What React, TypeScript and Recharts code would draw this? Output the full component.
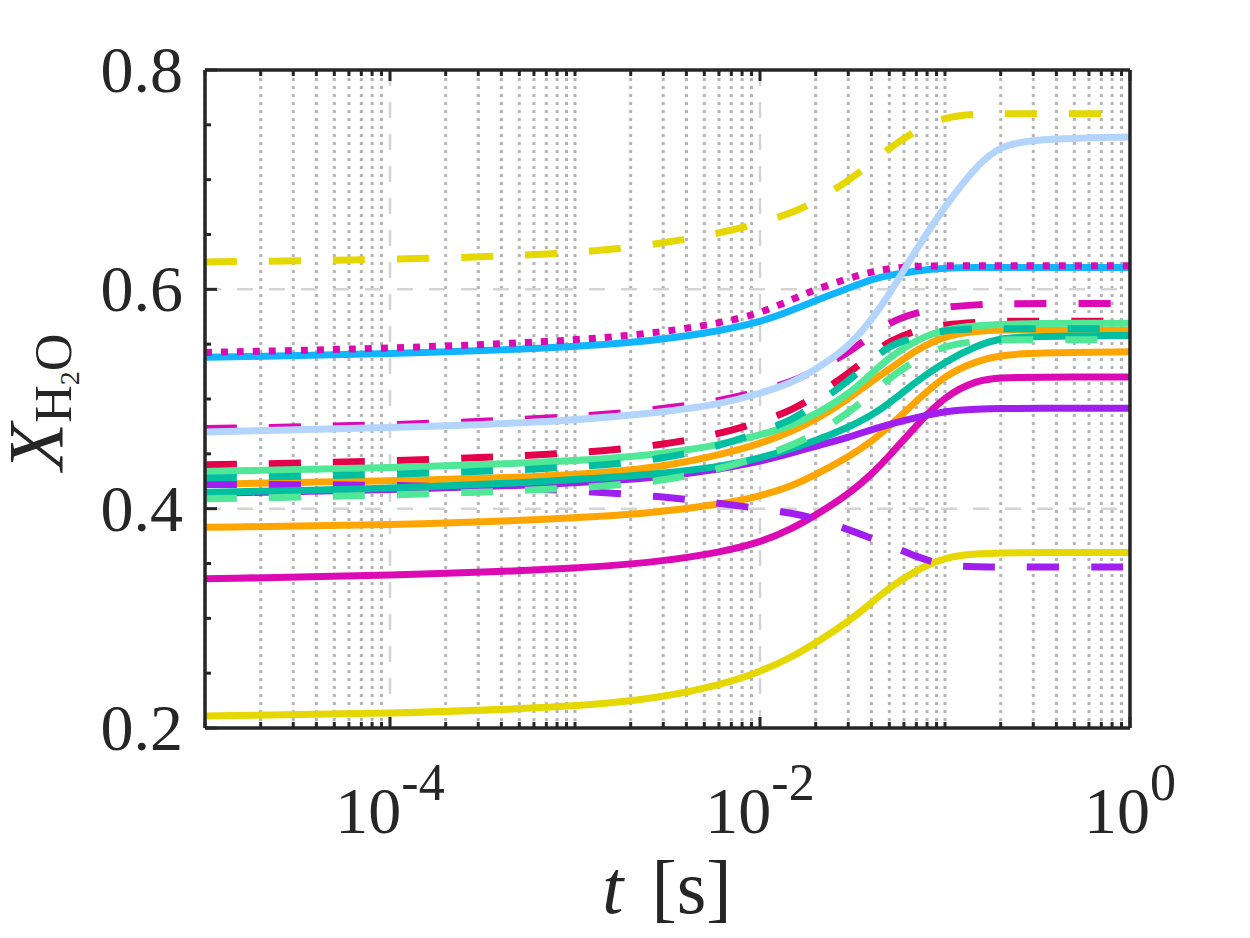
import { LineChart, Line, XAxis, YAxis, CartesianGrid } from 'recharts'

// sample times [s]
const T = [1e-5, 1e-4, 1e-3, 3e-3, 6e-3, 1e-2, 1.5e-2, 2e-2, 3e-2, 4e-2, 5e-2, 7e-2, 1e-1, 1.5e-1, 2e-1, 3e-1, 1]

const yellowSolid = [0.211, 0.213, 0.219, 0.228, 0.239, 0.251, 0.265, 0.2775, 0.297, 0.314, 0.328, 0.344, 0.356, 0.359, 0.3597, 0.36, 0.36]
const yellowDashed = [0.625, 0.627, 0.632, 0.642, 0.651, 0.66, 0.67, 0.68, 0.699, 0.715, 0.729, 0.745, 0.7575, 0.76, 0.76, 0.76, 0.76]
const magentaSolid = [0.336, 0.339, 0.345, 0.352, 0.36, 0.369, 0.382, 0.394, 0.413, 0.431, 0.448, 0.476, 0.503, 0.5175, 0.5195, 0.52, 0.52]
const orangeLow = [0.383, 0.385, 0.391, 0.397, 0.404, 0.411, 0.421, 0.431, 0.447, 0.461, 0.475, 0.498, 0.522, 0.535, 0.54, 0.542, 0.543]
const purpleSolid = [0.414, 0.417, 0.423, 0.429, 0.436, 0.443, 0.451, 0.457, 0.465, 0.472, 0.477, 0.483, 0.489, 0.491, 0.4915, 0.4915, 0.4915]
const orangeUp = [0.4224, 0.425, 0.43, 0.438, 0.449, 0.459, 0.471, 0.481, 0.5, 0.516, 0.527, 0.545, 0.558, 0.562, 0.563, 0.563, 0.563]
const purpleDashed = [0.422, 0.422, 0.417, 0.411, 0.405, 0.4, 0.396, 0.391, 0.381, 0.373, 0.367, 0.356, 0.348, 0.347, 0.3468, 0.3468, 0.3468]
const redDashed = [0.44, 0.443, 0.45, 0.458, 0.468, 0.479, 0.49, 0.503, 0.523, 0.54, 0.553, 0.563, 0.568, 0.57, 0.571, 0.571, 0.571]
const greenSolid = [0.434, 0.437, 0.443, 0.45, 0.458, 0.467, 0.476, 0.486, 0.504, 0.523, 0.538, 0.554, 0.564, 0.567, 0.568, 0.569, 0.569]
const tealSolid = [0.415, 0.418, 0.426, 0.432, 0.438, 0.446, 0.455, 0.462, 0.474, 0.485, 0.496, 0.516, 0.534, 0.549, 0.5555, 0.557, 0.558]
const tealDashed = [0.428, 0.431, 0.437, 0.445, 0.457, 0.47, 0.481, 0.495, 0.516, 0.535, 0.549, 0.557, 0.563, 0.564, 0.564, 0.564, 0.564]
const greenDashed = [0.409, 0.412, 0.418, 0.425, 0.436, 0.447, 0.458, 0.468, 0.487, 0.505, 0.519, 0.536, 0.549, 0.553, 0.554, 0.554, 0.554]
const magentaDashed = [0.473, 0.476, 0.483, 0.491, 0.498, 0.507, 0.516, 0.526, 0.542, 0.558, 0.57, 0.579, 0.584, 0.586, 0.587, 0.587, 0.587]
const skyBlue = [0.538, 0.541, 0.547, 0.554, 0.562, 0.57, 0.581, 0.59, 0.601, 0.609, 0.613, 0.617, 0.6195, 0.62, 0.62, 0.62, 0.62]
const magentaDotted = [0.5425, 0.546, 0.553, 0.561, 0.569, 0.578, 0.591, 0.6, 0.61, 0.616, 0.619, 0.621, 0.6215, 0.6215, 0.6215, 0.6215, 0.6215]
const lightBlue = [0.47, 0.4735, 0.48, 0.488, 0.495, 0.505, 0.515, 0.527, 0.547, 0.572, 0.595, 0.637, 0.676, 0.714, 0.731, 0.737, 0.739]

const X_MAJOR = [1e-4, 1e-2, 1]
const X_MAJOR_LABELS = ['-4', '-2', '0']
const X_MINOR = [
  1e-5, 2e-5, 3e-5, 4e-5, 5e-5, 6e-5, 7e-5, 8e-5, 9e-5,
  2e-4, 3e-4, 4e-4, 5e-4, 6e-4, 7e-4, 8e-4, 9e-4,
  1e-3, 2e-3, 3e-3, 4e-3, 5e-3, 6e-3, 7e-3, 8e-3, 9e-3,
  2e-2, 3e-2, 4e-2, 5e-2, 6e-2, 7e-2, 8e-2, 9e-2,
  1e-1, 2e-1, 3e-1, 4e-1, 5e-1, 6e-1, 7e-1, 8e-1, 9e-1,
]
const Y_MAJOR = [0.2, 0.4, 0.6, 0.8]
const Y_MAJOR_LABELS = ['0.2', '0.4', '0.6', '0.8']
const Y_MINOR = [0.25, 0.3, 0.35, 0.45, 0.5, 0.55, 0.65, 0.7, 0.75]

const INK = '#262626'
const FONT = 'Liberation Serif'
const DASH = '32 32'
const DOT = '7 9'

// drawing order = z-order
const SERIES = [
  { key: 'yellowSolid', values: yellowSolid, color: '#E5D700' },
  { key: 'yellowDashed', values: yellowDashed, color: '#E5D700', dash: DASH },
  { key: 'magentaSolid', values: magentaSolid, color: '#DC0AB4' },
  { key: 'orangeLow', values: orangeLow, color: '#FFA500' },
  { key: 'purpleSolid', values: purpleSolid, color: '#A01EF0' },
  { key: 'orangeUp', values: orangeUp, color: '#FFA500' },
  { key: 'purpleDashed', values: purpleDashed, color: '#A01EF0', dash: DASH },
  { key: 'redDashed', values: redDashed, color: '#E5004B', dash: DASH },
  { key: 'greenSolid', values: greenSolid, color: '#50E896' },
  { key: 'tealSolid', values: tealSolid, color: '#00BFA0' },
  { key: 'tealDashed', values: tealDashed, color: '#00BFA0', dash: DASH },
  { key: 'greenDashed', values: greenDashed, color: '#50E896', dash: DASH },
  { key: 'magentaDashed', values: magentaDashed, color: '#DC0AB4', dash: DASH },
  { key: 'skyBlue', values: skyBlue, color: '#10B4FF' },
  { key: 'magentaDotted', values: magentaDotted, color: '#DC0AB4', dash: DOT },
  { key: 'lightBlue', values: lightBlue, color: '#B3D4FC' },
]

const rows = T.map((t, i) => {
  const row: Record<string, number> = { t }
  SERIES.forEach(s => { row[s.key] = s.values[i] })
  return row
})

function BottomTick(props: any) {
  const { x, y, payload } = props
  const idx = X_MAJOR.indexOf(payload.value)
  const major = idx >= 0
  return (
    <g>
      <line x1={x} x2={x} y1={y} y2={y - (major ? 11 : 6)} stroke={INK} strokeWidth={3} />
      {major && (
        <text x={x} y={y + 105} textAnchor="middle" fill={INK} style={{ fontFamily: FONT }} fontSize={66}>
          <tspan>10</tspan>
          <tspan fontSize={52} dy={-33}>{X_MAJOR_LABELS[idx]}</tspan>
        </text>
      )}
    </g>
  )
}

function TopTick(props: any) {
  const { x, y, payload } = props
  const major = X_MAJOR.includes(payload.value)
  return <line x1={x} x2={x} y1={y} y2={y + (major ? 11 : 6)} stroke={INK} strokeWidth={3} />
}

function LeftTick(props: any) {
  const { x, y, payload } = props
  const idx = Y_MAJOR.indexOf(payload.value)
  const major = idx >= 0
  return (
    <g>
      <line x1={x} x2={x + (major ? 12 : 6)} y1={y} y2={y} stroke={INK} strokeWidth={3} />
      {major && (
        <text x={x - 22} y={y + 22} textAnchor="end" fill={INK} style={{ fontFamily: FONT }} fontSize={66}>
          {Y_MAJOR_LABELS[idx]}
        </text>
      )}
    </g>
  )
}

function RightTick(props: any) {
  const { x, y, payload } = props
  const major = Y_MAJOR.includes(payload.value)
  return <line x1={x} x2={x - (major ? 12 : 6)} y1={y} y2={y} stroke={INK} strokeWidth={3} />
}

export default function App() {
  const axisLine = { stroke: INK, strokeWidth: 3.5 }
  return (
    <div style={{ position: 'absolute', left: 0, top: 0, width: 1250, height: 938, background: '#fff', fontFamily: FONT }}>
      <LineChart width={1250} height={938} data={rows} margin={{ top: 60, right: 110, bottom: 0, left: 0 }}>
        <CartesianGrid
          horizontal={false}
          verticalValues={X_MINOR}
          stroke="#b4b4b4"
          strokeWidth={3}
          strokeDasharray="3 5"
        />
        <CartesianGrid
          verticalValues={[1e-4, 1e-2]}
          horizontalValues={[0.4, 0.6]}
          stroke="#d4d4d4"
          strokeWidth={2.5}
          strokeDasharray="16 16"
        />
        <XAxis
          dataKey="t"
          type="number"
          scale="log"
          domain={[1e-5, 1]}
          ticks={[...X_MAJOR, ...X_MINOR]}
          interval={0}
          height={210}
          tickSize={0}
          tickMargin={0}
          tickLine={false}
          axisLine={axisLine}
          tick={<BottomTick />}
        />
        <XAxis
          xAxisId="top"
          orientation="top"
          dataKey="t"
          type="number"
          scale="log"
          domain={[1e-5, 1]}
          ticks={[...X_MAJOR, ...X_MINOR]}
          interval={0}
          height={10}
          tickSize={0}
          tickMargin={0}
          tickLine={false}
          axisLine={axisLine}
          tick={<TopTick />}
        />
        <YAxis
          type="number"
          domain={[0.2, 0.8]}
          ticks={[...Y_MAJOR, ...Y_MINOR]}
          interval={0}
          width={205}
          tickSize={0}
          tickMargin={0}
          tickLine={false}
          axisLine={axisLine}
          tick={<LeftTick />}
        />
        <YAxis
          yAxisId="right"
          orientation="right"
          type="number"
          domain={[0.2, 0.8]}
          ticks={[...Y_MAJOR, ...Y_MINOR]}
          interval={0}
          width={10}
          tickSize={0}
          tickMargin={0}
          tickLine={false}
          axisLine={axisLine}
          tick={<RightTick />}
        />
        {SERIES.map(s => (
          <Line
            key={s.key}
            dataKey={s.key}
            type="basis"
            stroke={s.color}
            strokeWidth={7}
            strokeDasharray={s.dash}
            strokeLinecap="butt"
            dot={false}
            activeDot={false}
            isAnimationActive={false}
          />
        ))}
      </LineChart>
      <svg width={1250} height={938} style={{ position: 'absolute', left: 0, top: 0, pointerEvents: 'none' }}>
        <text x={667} y={913} textAnchor="middle" fill={INK} style={{ fontFamily: FONT }} fontSize={76}>
          <tspan fontStyle="italic">t</tspan>
          <tspan dx={28}>[s]</tspan>
        </text>
        <text x={62} y={402} transform="rotate(-90 62 402)" textAnchor="middle" fill={INK} style={{ fontFamily: FONT }} fontSize={78}>
          <tspan fontStyle="italic">X</tspan>
          <tspan fontSize={52} dy={9}>H</tspan>
          <tspan fontSize={28} dy={8}>2</tspan>
          <tspan fontSize={52} dy={-8}>O</tspan>
        </text>
      </svg>
    </div>
  )
}
